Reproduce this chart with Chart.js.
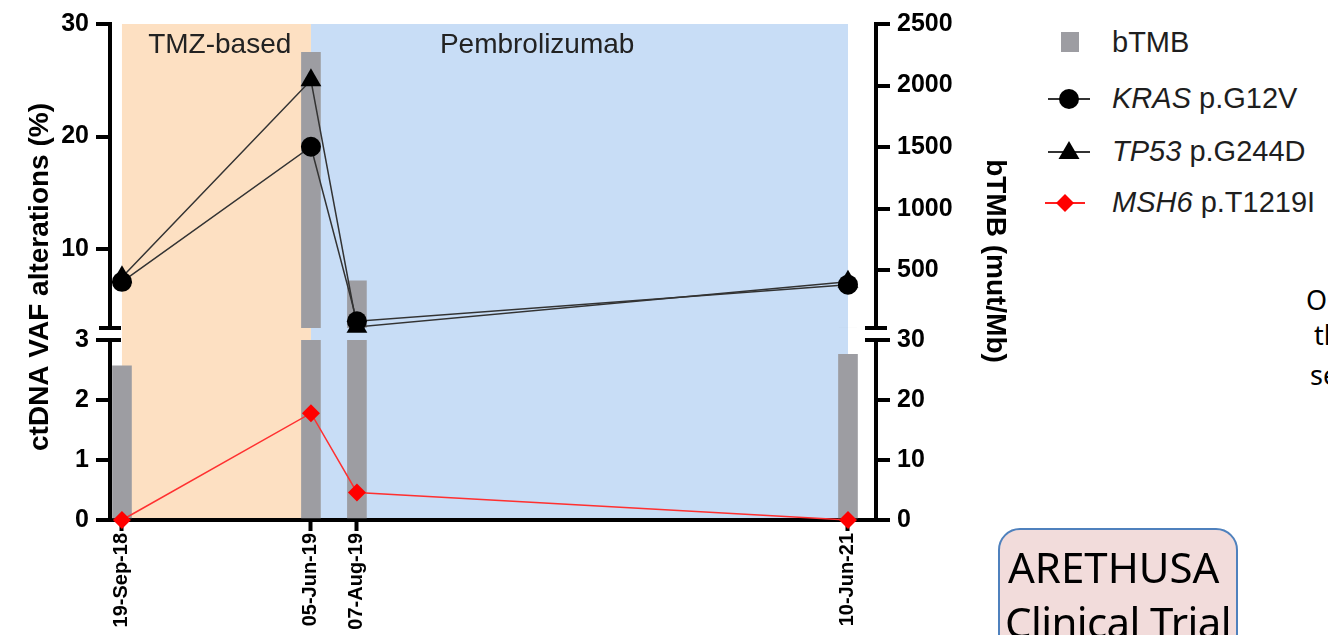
<!DOCTYPE html>
<html>
<head>
<meta charset="utf-8">
<script src="https://cdn.jsdelivr.net/npm/chart.js@4.4.1/dist/chart.umd.min.js"></script>
<style>
  html, body { margin: 0; padding: 0; background: #fff; overflow: hidden; }
  body { width: 1328px; height: 635px; position: relative; font-family: "Liberation Sans", Arial, sans-serif; }
  #chart { position: absolute; left: 0; top: 0; }
  .leg { position: absolute; left: 1112px; font-size: 29px; line-height: 34px; color: #1e1e1e; white-space: nowrap; }
  .leg i { font-style: italic; }
  #legendIcons { position: absolute; left: 1030px; top: 0; }
  #trial { position: absolute; left: 998px; top: 528px; width: 240px; height: 140px; box-sizing: border-box;
           border: 2px solid #4f81bd; border-radius: 22px; background: #f2dcdb;
           font-family: "Noto Sans", sans-serif; font-size: 42px; line-height: 55px; color: #000;
           padding: 9px 0 0 8px; white-space: nowrap; }
  #trial span { display: inline-block; margin-left: -3px; letter-spacing: -0.6px; }
  .cut { position: absolute; font-family: "Noto Sans", sans-serif; font-size: 27px; line-height: 37px; color: #000; white-space: nowrap; }
</style>
</head>
<body>
<canvas id="chart" width="1040" height="635"></canvas>

<svg id="legendIcons" width="80" height="230">
  <rect x="31" y="32" width="18" height="20" fill="#9d9da2"/>
  <line x1="18" y1="99" x2="60" y2="99" stroke="#333" stroke-width="2"/>
  <circle cx="39" cy="99" r="10" fill="#000"/>
  <line x1="18" y1="152" x2="60" y2="152" stroke="#333" stroke-width="2"/>
  <polygon points="39,141 28.5,159 49.5,159" fill="#000"/>
  <line x1="15" y1="203" x2="55" y2="203" stroke="#ff2020" stroke-width="2"/>
  <polygon points="35,194 44,203 35,212 26,203" fill="#ff0000"/>
</svg>
<div class="leg" style="top:25px">bTMB</div>
<div class="leg" style="top:81px"><i>KRAS</i> p.G12V</div>
<div class="leg" style="top:134px"><i>TP53</i> p.G244D</div>
<div class="leg" style="top:185px"><i>MSH6</i> p.T1219I</div>

<div id="trial">ARETHUSA<br><span>Clinical Trial</span></div>

<div class="cut" style="left:1306px; top:281px">O</div>
<div class="cut" style="left:1314px; top:316px">th</div>
<div class="cut" style="left:1310px; top:356px">se</div>

<script>
// sampling dates (x axis is days since the first sample)
const dateLabels = ['19-Sep-18', '05-Jun-19', '07-Aug-19', '10-Jun-21'];
const sampleDays = [0, 259, 322, 995];

// bTMB (mut/Mb), right axis
const btmb = [25.7, 2270, 414, 27.6];
// ctDNA VAF (%), left axis
const kras = [7.1, 19.1, 3.6, 6.85];
const tp53 = [7.5, 25.0, 3.1, 7.1];
const msh6 = [0, 1.78, 0.46, 0];

// broken axes: lower and upper segment ticks
const vafLowTicks = [0, 1, 2, 3];
const vafHighTicks = [10, 20, 30];
const tmbLowTicks = [0, 10, 20, 30];
const tmbHighTicks = [500, 1000, 1500, 2000, 2500];

// treatment periods
const phaseNames = ['TMZ-based', 'Pembrolizumab'];
const phaseStart = [0, 259];
const phaseEnd = [259, 995];
const phaseLabelAt = [134, 569];
const phaseColors = ['#fde0c2', '#c8ddf6'];

Chart.defaults.font.family = '"Liberation Sans", Arial, sans-serif';
Chart.defaults.color = '#000';

const tickFont = { size: 25, weight: 'bold' };
const LEFT_W = 110;
const RIGHT_W = 164;

function segment(position, min, max, ticks, stackWeight, weight) {
  return {
    type: 'linear',
    position: position,
    stack: position,
    stackWeight: stackWeight,
    weight: weight,
    min: min,
    max: max,
    afterBuildTicks: s => { s.ticks = ticks.map(v => ({ value: v })); },
    afterFit: s => { s.width = position === 'left' ? LEFT_W : RIGHT_W; },
    grid: { drawOnChartArea: false, tickLength: 14, tickWidth: 4, tickColor: '#000', lineWidth: 4 },
    border: { color: '#000', width: 4 },
    ticks: { font: tickFont, color: '#000', padding: 7, callback: v => String(v) }
  };
}

function gap(position, weight) {
  return {
    type: 'linear',
    position: position,
    stack: position,
    stackWeight: 12,
    weight: weight,
    min: 0,
    max: 1,
    afterFit: s => { s.width = position === 'left' ? LEFT_W : RIGHT_W; },
    grid: { display: false },
    border: { display: false },
    ticks: { display: false }
  };
}

// paint the treatment periods behind everything
const phaseShading = {
  id: 'phaseShading',
  beforeDraw(chart) {
    const { ctx, chartArea, scales } = chart;
    const x = scales.x;
    ctx.save();
    phaseNames.forEach((name, i) => {
      const x0 = x.getPixelForValue(phaseStart[i]);
      const x1 = x.getPixelForValue(phaseEnd[i]);
      ctx.fillStyle = phaseColors[i];
      ctx.fillRect(x0, chartArea.top, x1 - x0, chartArea.bottom - chartArea.top);
    });
    ctx.fillStyle = '#222';
    ctx.font = '28px "Liberation Sans", Arial, sans-serif';
    ctx.textAlign = 'center';
    ctx.textBaseline = 'alphabetic';
    phaseNames.forEach((name, i) => {
      ctx.fillText(name, x.getPixelForValue(phaseLabelAt[i]), chartArea.top + 29);
    });
    ctx.restore();
  }
};

// keep bars inside their own axis segment
const segmentClip = {
  id: 'segmentClip',
  beforeDatasetDraw(chart, args) {
    const ds = chart.data.datasets[args.index];
    if (!ds.clipToSegment) return;
    const y = chart.scales[ds.yAxisID];
    const a = chart.chartArea;
    chart.ctx.save();
    chart.ctx.beginPath();
    chart.ctx.rect(a.left, y.top, a.right - a.left, y.bottom - y.top);
    chart.ctx.clip();
  },
  afterDatasetDraw(chart, args) {
    const ds = chart.data.datasets[args.index];
    if (ds.clipToSegment) chart.ctx.restore();
  }
};

// axis break marks and the two axis titles
const axisDecor = {
  id: 'axisDecor',
  afterDraw(chart) {
    const { ctx, chartArea, scales } = chart;
    ctx.save();
    ctx.strokeStyle = '#000';
    ctx.lineWidth = 4;
    [[chartArea.left, 'yUpL', 'yLowL'], [chartArea.right, 'yUpR', 'yLowR']].forEach(([x, up, low]) => {
      [scales[up].bottom, scales[low].top].forEach(y => {
        ctx.beginPath();
        ctx.moveTo(x - 11, y);
        ctx.lineTo(x + 11, y);
        ctx.stroke();
      });
    });
    ctx.fillStyle = '#000';
    ctx.font = 'bold 28px "Liberation Sans", Arial, sans-serif';
    ctx.textAlign = 'center';
    ctx.textBaseline = 'middle';
    const midY = (chartArea.top + chartArea.bottom) / 2;
    ctx.translate(chartArea.left - 70, midY + 5);
    ctx.rotate(-Math.PI / 2);
    ctx.fillText('ctDNA VAF alterations (%)', 0, 0);
    ctx.restore();
    ctx.save();
    ctx.fillStyle = '#000';
    ctx.font = 'bold 28px "Liberation Sans", Arial, sans-serif';
    ctx.textAlign = 'center';
    ctx.textBaseline = 'middle';
    ctx.translate(chartArea.right + 119, midY - 11);
    ctx.rotate(Math.PI / 2);
    ctx.fillText('bTMB (mut/Mb)', 0, 0);
    ctx.restore();
  }
};

const points = vals => sampleDays.map((d, i) => ({ x: d, y: vals[i] }));

new Chart(document.getElementById('chart'), {
  type: 'bar',
  data: {
    datasets: [
      { label: 'bTMB', data: points(btmb), yAxisID: 'yLowR', backgroundColor: '#9d9da2',
        barThickness: 19, grouped: false, order: 2, clipToSegment: true },
      { label: 'bTMB upper', data: points(btmb), yAxisID: 'yUpR', backgroundColor: '#9d9da2',
        barThickness: 19, grouped: false, order: 2, clipToSegment: true },
      { type: 'line', label: 'KRAS p.G12V', data: points(kras), yAxisID: 'yUpL',
        borderColor: '#333', borderWidth: 1.5, pointStyle: 'circle', pointRadius: 10,
        pointBackgroundColor: '#000', pointBorderColor: '#000', pointBorderWidth: 0, clip: false, order: 1 },
      { type: 'line', label: 'TP53 p.G244D', data: points(tp53), yAxisID: 'yUpL',
        borderColor: '#333', borderWidth: 1.5, pointStyle: 'triangle', pointRadius: 12,
        pointBackgroundColor: '#000', pointBorderColor: '#000', pointBorderWidth: 0, clip: false, order: 1 },
      { type: 'line', label: 'MSH6 p.T1219I', data: points(msh6), yAxisID: 'yLowL',
        borderColor: '#ff3030', borderWidth: 1.5, pointStyle: 'rectRot', pointRadius: 9,
        pointBackgroundColor: '#ff0000', pointBorderColor: '#ff0000', pointBorderWidth: 0, clip: false, order: 0 }
    ]
  },
  options: {
    responsive: false,
    animation: false,
    events: [],
    devicePixelRatio: 1,
    layout: { padding: { top: 24, left: 0, right: 0, bottom: 0 } },
    plugins: { legend: { display: false }, tooltip: { enabled: false } },
    scales: {
      x: {
        type: 'linear',
        min: -16.4,
        max: 1033.4,
        offset: false,
        afterBuildTicks: s => { s.ticks = sampleDays.map(v => ({ value: v })); },
        afterFit: s => { s.height = 115; },
        grid: { drawOnChartArea: false, offset: false, tickLength: 11, tickWidth: 4, tickColor: '#000' },
        border: { color: '#000', width: 4 },
        ticks: { autoSkip: false, minRotation: 90, maxRotation: 90, padding: 2, color: '#000',
                 font: { size: 20, weight: 'bold' }, callback: (v, i) => dateLabels[i] }
      },
      yLowL: segment('left', 0, 3, vafLowTicks, 180, 1),
      yGapL: gap('left', 2),
      yUpL: segment('left', 3, 30, vafHighTicks, 304, 3),
      yUpR: segment('right', 30, 2500, tmbHighTicks, 304, 1),
      yGapR: gap('right', 2),
      yLowR: segment('right', 0, 30, tmbLowTicks, 180, 3)
    }
  },
  plugins: [phaseShading, segmentClip, axisDecor]
});
</script>
</body>
</html>
